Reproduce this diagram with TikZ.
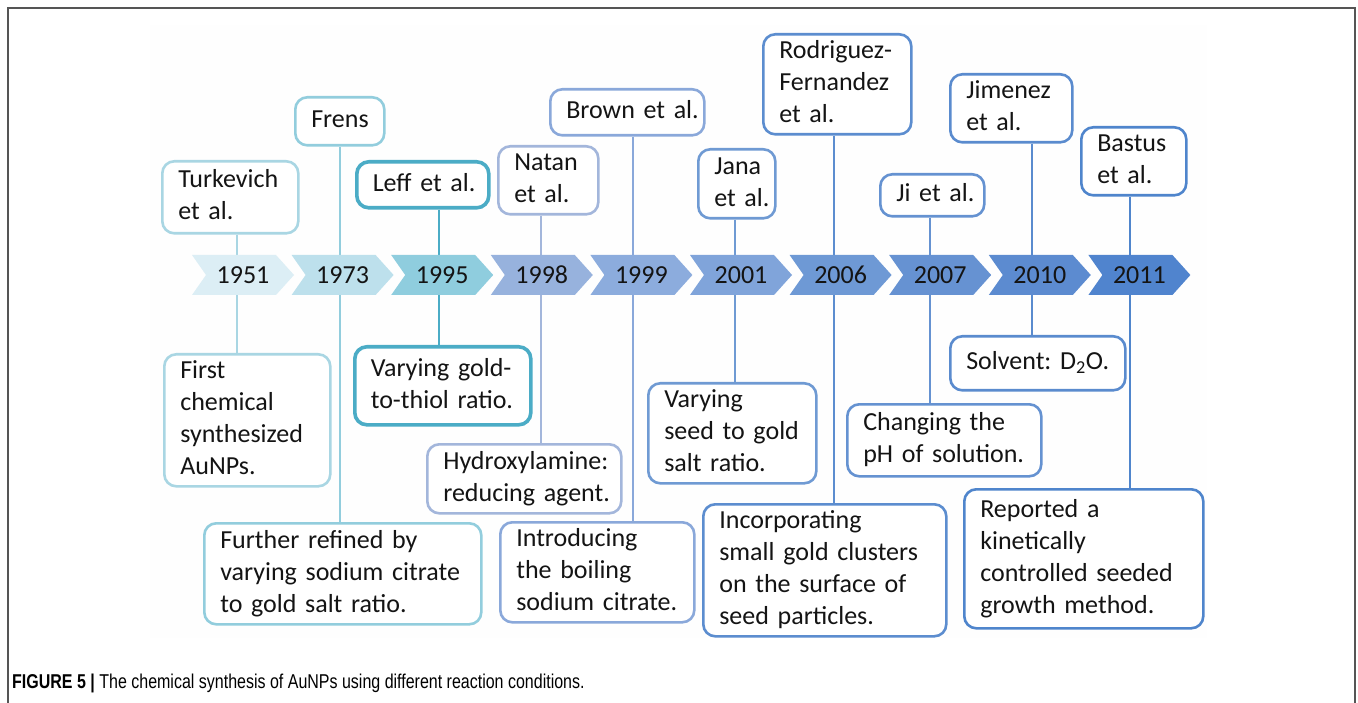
\documentclass[tikz,border=0pt]{standalone}
\usepackage{fontspec}
\setmainfont{Carlito}
\newfontfamily\capfont{Liberation Sans}
\usetikzlibrary{calc}
\frenchspacing

% chevron fills, light to dark
\definecolor{ch1}{HTML}{DCEEF5}
\definecolor{ch2}{HTML}{BDE0EC}
\definecolor{ch3}{HTML}{8FCDDE}
\definecolor{ch4}{HTML}{97B2DD}
\definecolor{ch5}{HTML}{8CACDD}
\definecolor{ch6}{HTML}{80A4DA}
\definecolor{ch7}{HTML}{6E99D5}
\definecolor{ch8}{HTML}{6692D2}
\definecolor{ch9}{HTML}{5C8BD0}
\definecolor{ch10}{HTML}{5084CE}
% box outlines and leader lines
\definecolor{b1}{HTML}{A9D6E3}
\definecolor{b2}{HTML}{92CDDD}
\definecolor{b3}{HTML}{4BACC6}
\definecolor{b4}{HTML}{A3B6DB}
\definecolor{b5}{HTML}{8AA8DA}
\definecolor{b6}{HTML}{6F9AD3}
\definecolor{b7}{HTML}{5C8DCF}
\definecolor{b8}{HTML}{6592D1}
\definecolor{b9}{HTML}{5A8BCE}
\definecolor{b10}{HTML}{4F85CC}
\definecolor{ink}{HTML}{141414}
\definecolor{framegray}{HTML}{555555}
\definecolor{panel}{HTML}{FEFEFE}

\newcommand\lns[1]{\begin{tabular}{@{}l@{}}#1\end{tabular}}
% \mkbox[extra]{colour}{x1}{y1}{x2}{y2}{name}{text}
\newcommand\mkbox[8][]{%
  \pgfmathsetmacro\bw{#5-#3}%
  \pgfmathsetmacro\bh{#6-#4}%
  \pgfmathsetmacro\tw{#5-#3-32}%
  \node[box, draw=#2, minimum width=\bw pt, minimum height=\bh pt,
        text width=\tw pt, anchor=north west, #1] (#7) at (#3,#4) {\lns{#8}};}
% \chev{name}{colour}{left x}{year}
\newcommand\chev[4]{%
  \fill[#2] (#3,255) -- ++(84,0) -- ++(18,20) -- ++(-18,20) -- ++(-84,0) -- ++(14,-20) -- cycle;
  \node[year] (#1) at ({#3+51},275) {#4};}

\begin{document}
\begin{tikzpicture}[x=1pt,y=-1pt,
  box/.style={rounded corners=12pt, line width=2.6pt, fill=white, inner xsep=16pt,
              inner ysep=2pt, align=left, text=ink, font=\fontsize{26}{32}\selectfont},
  heavy/.style={line width=3.6pt},
  year/.style={minimum width=102pt, minimum height=40pt, inner sep=0pt, text=ink,
               font=\fontsize{26}{32}\selectfont},
  conn/.style={line width=1.3pt}]
\useasboundingbox (0,0) rectangle (1358,703);

% outer frame, open at the bottom edge
\draw[framegray, line width=1.8pt] (8,710) -- (8,8) -- (1355,8) -- (1355,710);
% faint panel behind the timeline
\fill[panel] (150,25) rectangle (1207,638);

% x positions of the leader lines
\foreach \n/\x in {l1/237, l2/340, l3/439, l4/541, l5/633, l6/735, l7/834, l8/930, l9/1032, l10/1130}
  \coordinate (\n) at (\x,0);

% upper boxes: authors
\mkbox{b1}{161}{160}{297}{232}{turk}{Turkevich\\et al.}
\mkbox{b2}{294}{96}{383}{144}{frens}{Frens}
\mkbox[heavy]{b3}{355}{160}{487}{206}{leff}{Leff et al.}
\mkbox{b4}{497}{145}{597}{208}{natan}{Natan\\et al.}
\mkbox{b5}{549}{88}{703}{134}{brown}{Brown et al.}
\mkbox{b6}{697}{148}{774}{217}{jana}{Jana\\et al.}
\mkbox{b7}{762}{33}{910}{123}{rodf}{Rodriguez-\\Fernandez\\et al.}
\mkbox{b8}{879}{173}{983}{215}{ji}{Ji et al.}
\mkbox{b9}{949}{73}{1071}{139}{jim}{Jimenez\\et al.}
\mkbox{b10}{1080}{126}{1185}{190}{bast}{Bastus\\et al.}

% lower boxes: methods
\mkbox{b1}{163}{353}{329}{482}{first}{First\\chemical\\synthesized\\AuNPs.}
\mkbox{b2}{203}{522}{480}{623}{refined}{Further refined by\\varying sodium citrate\\to gold salt ratio.}
\mkbox[heavy]{b3}{353}{345}{529}{423}{thiol}{Varying gold-\\to-thiol ratio.}
\mkbox{b4}{426}{443}{620}{512}{hydrox}{Hydroxylamine:\\reducing agent.}
\mkbox{b5}{499}{521}{693}{617}{intro}{Introducing\\the boiling\\sodium citrate.}
\mkbox{b6}{647}{382}{815}{479}{seed}{Varying\\seed to gold\\salt ratio.}
\mkbox{b7}{702}{503}{945}{628}{incorp}{Incorporating\\small gold clusters\\on the surface of\\seed particles.}
\mkbox{b8}{846}{403}{1040}{475}{ph}{Changing the\\pH of solution.}
\mkbox{b9}{949}{335}{1124}{389}{solv}{Solvent: D\textsubscript{2}O.}
\mkbox{b10}{963}{488}{1202}{627}{report}{Reported a\\kinetically\\controlled seeded\\growth method.}

% leader lines, author to method
\draw[conn, b1]  (turk.south -| l1)   -- (first.north -| l1);
\draw[conn, b2]  (frens.south -| l2)  -- (refined.north -| l2);
\draw[conn, b3]  (leff.south -| l3)   -- (thiol.north -| l3);
\draw[conn, b4]  (natan.south -| l4)  -- (hydrox.north -| l4);
\draw[conn, b5]  (brown.south -| l5)  -- (intro.north -| l5);
\draw[conn, b6]  (jana.south -| l6)   -- (seed.north -| l6);
\draw[conn, b7]  (rodf.south -| l7)   -- (incorp.north -| l7);
\draw[conn, b8]  (ji.south -| l8)     -- (ph.north -| l8);
\draw[conn, b9]  (jim.south -| l9)    -- (solv.north -| l9);
\draw[conn, b10] (bast.south -| l10)  -- (report.north -| l10);

% timeline chevrons
\chev{y1951}{ch1}{192}{1951}
\chev{y1973}{ch2}{291.6}{1973}
\chev{y1995}{ch3}{391.2}{1995}
\chev{y1998}{ch4}{490.8}{1998}
\chev{y1999}{ch5}{590.4}{1999}
\chev{y2001}{ch6}{690}{2001}
\chev{y2006}{ch7}{789.6}{2006}
\chev{y2007}{ch8}{889.2}{2007}
\chev{y2010}{ch9}{988.8}{2010}
\chev{y2011}{ch10}{1088.4}{2011}

% caption
\node[anchor=base west, inner sep=0pt, text=black,
      font=\capfont\fontsize{20}{22}\selectfont] (caption) at (12,688)
  {\scalebox{0.8}[1]{\textbf{FIGURE 5 |} The chemical synthesis of AuNPs using different reaction conditions.}};
\end{tikzpicture}
\end{document}
